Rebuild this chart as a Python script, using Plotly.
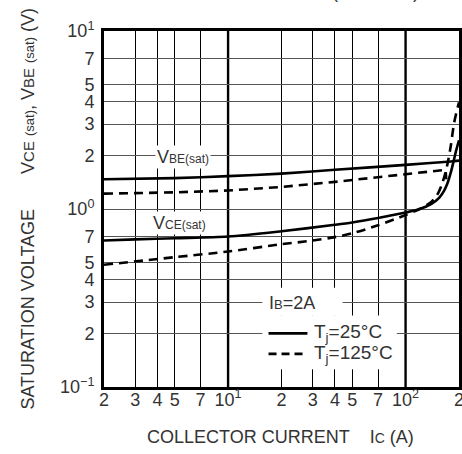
import plotly.graph_objects as go
import math

# ---------------- data ----------------
ic_vbe_25 = [2, 5, 10, 20, 40, 100, 180, 200]
vbe_25 = [1.47, 1.49, 1.53, 1.58, 1.66, 1.77, 1.85, 1.87]

ic_vbe_125 = [2, 5, 10, 20, 40, 100, 160, 168, 169.5]
vbe_125 = [1.22, 1.24, 1.27, 1.33, 1.42, 1.56, 1.65, 1.66, 1.47]

ic_vce_25 = [2, 3, 5, 10, 20, 40, 50, 70, 100, 120, 140, 155, 165, 172, 180, 187, 193, 200]
vce_25 = [0.665, 0.675, 0.685, 0.70, 0.75, 0.815, 0.84, 0.89, 0.955, 1.0, 1.07, 1.16, 1.27, 1.39, 1.61, 1.88, 2.14, 2.43]

ic_vce_125 = [2, 5, 10, 20, 30, 40, 50, 70, 100, 120, 140, 150, 160, 168, 174, 180, 188, 200]
vce_125 = [0.486, 0.536, 0.577, 0.634, 0.665, 0.695, 0.73, 0.81, 0.925, 1.0, 1.10, 1.19, 1.37, 1.61, 1.88, 2.28, 3.07, 3.98]

x_tickvals = [2, 3, 4, 5, 7, 10, 20, 30, 40, 50, 70, 100, 200]
x_ticktext = ["2", "3", "4", "5", "7", "10<sup>1</sup>", "2", "3", "4", "5", "7", "10<sup>2</sup>", "2"]
y_tickvals = [0.1, 0.2, 0.3, 0.4, 0.5, 0.7, 1, 2, 3, 4, 5, 7, 10]
y_ticktext = ["10<sup>\u22121</sup>", "2", "3", "4", "5", "7", "10<sup>0</sup>",
              "2", "3", "4", "5", "7", "10<sup>1</sup>"]
x_decades = [10, 100]

FONT = "Liberation Sans, Arial, sans-serif"
TXT = "#333333"
FS = 18
GAP = "&nbsp;" * 4
YGAP = "&nbsp;" * 7

def sm(s, size=12):
    return "<span style='font-size:%dpx'>%s</span>" % (size, s)

fig = go.Figure()

solid = dict(color="black", width=2.6)
dashed = dict(color="black", width=2.6, dash="9px,6px")

fig.add_trace(go.Scatter(x=ic_vbe_25, y=vbe_25, mode="lines",
                         line=dict(**solid, shape="spline", smoothing=0.6), showlegend=False))
fig.add_trace(go.Scatter(x=ic_vbe_125, y=vbe_125, mode="lines",
                         line=dict(**dashed), showlegend=False))
fig.add_trace(go.Scatter(x=ic_vce_25, y=vce_25, mode="lines",
                         line=dict(**solid, shape="spline", smoothing=0.8), showlegend=False))
fig.add_trace(go.Scatter(x=ic_vce_125, y=vce_125, mode="lines",
                         line=dict(**dashed, shape="spline", smoothing=0.8), showlegend=False))

shapes = []
# heavier decade grid lines
for xv in x_decades:
    shapes.append(dict(type="line", xref="x", yref="paper", x0=xv, x1=xv, y0=0, y1=1,
                       line=dict(color="black", width=2.4), layer="between"))
# white boxes behind the legend text
shapes.append(dict(type="rect", xref="x", yref="y", x0=15.6, x1=44.2, y0=0.251, y1=0.361,
                   fillcolor="white", line=dict(width=0), layer="between"))
shapes.append(dict(type="rect", xref="x", yref="y", x0=15.6, x1=89.3, y0=0.126, y1=0.252,
                   fillcolor="white", line=dict(width=0), layer="between"))
# legend line samples
shapes.append(dict(type="line", xref="x", yref="y", x0=16.9, x1=28.0, y0=0.2, y1=0.2,
                   line=dict(color="black", width=2.6), layer="above"))
shapes.append(dict(type="line", xref="x", yref="y", x0=16.9, x1=28.0, y0=0.1535, y1=0.1535,
                   line=dict(color="black", width=2.6, dash="8px,5px"), layer="above"))

annotations = [
    dict(x=math.log10(5.6), y=math.log10(1.97), xref="x", yref="y",
         text="V" + sm("BE(sat)"), showarrow=False, bgcolor="white", borderpad=1,
         font=dict(family=FONT, size=FS, color=TXT)),
    dict(x=math.log10(5.3), y=math.log10(0.83), xref="x", yref="y",
         text="V" + sm("CE(sat)"), showarrow=False, bgcolor="white", borderpad=1,
         font=dict(family=FONT, size=FS, color=TXT)),
    dict(x=math.log10(16.6), y=math.log10(0.296), xref="x", yref="y", xanchor="left",
         text="I" + sm("B", 13) + "=2A", showarrow=False,
         font=dict(family=FONT, size=FS, color=TXT)),
    dict(x=math.log10(29.8), y=math.log10(0.2), xref="x", yref="y", xanchor="left",
         text="T<sub>j</sub>=25\u00b0C", showarrow=False,
         font=dict(family=FONT, size=19, color=TXT)),
    dict(x=math.log10(29.8), y=math.log10(0.1535), xref="x", yref="y", xanchor="left",
         text="T<sub>j</sub>=125\u00b0C", showarrow=False,
         font=dict(family=FONT, size=19, color=TXT)),
    # axis titles
    dict(x=0.496, y=-0.14, xref="paper", yref="paper", yanchor="middle",
         text="COLLECTOR CURRENT" + GAP + "I" + sm("C", 14) + " (A)",
         showarrow=False, font=dict(family=FONT, size=FS, color=TXT)),
    dict(x=-0.248, y=0.501, xref="paper", yref="paper", textangle=-90,
         text="SATURATION VOLTAGE" + YGAP + "V" + sm("CE", 15) + " " + sm("(sat)", 13)
              + ", V" + sm("BE", 15) + " " + sm("(sat)", 13) + " (V)",
         showarrow=False, font=dict(family=FONT, size=FS, color=TXT)),
    # chart title, almost entirely above the visible page
    dict(x=0.894, y=1.075, xref="paper", yref="paper", xanchor="right", yanchor="bottom",
         text="CHARACTERISTICS (TYPICAL)",
         showarrow=False, font=dict(family=FONT, size=FS, color=TXT)),
]

fig.update_layout(
    width=462, height=454, autosize=False,
    margin=dict(l=104, r=3, t=31, b=67, autoexpand=False),
    paper_bgcolor="white", plot_bgcolor="white",
    shapes=shapes, annotations=annotations,
    font=dict(family=FONT, size=FS, color=TXT),
)
fig.update_xaxes(type="log", range=[math.log10(2), math.log10(200)], automargin=False,
                 tickmode="array", tickvals=x_tickvals, ticktext=x_ticktext,
                 showgrid=True, gridcolor="black", gridwidth=1.3,
                 showline=True, mirror=True, linecolor="black", linewidth=3,
                 ticks="", ticklabelstandoff=-6, ticklabeloverflow="allow", zeroline=False,
                 tickfont=dict(family=FONT, size=FS, color=TXT))
fig.update_yaxes(type="log", range=[-1, 1], automargin=False,
                 tickmode="array", tickvals=y_tickvals, ticktext=y_ticktext,
                 showgrid=True, gridcolor="#555555", gridwidth=1.3,
                 showline=True, mirror=True, linecolor="black", linewidth=3,
                 ticks="", ticklabelstandoff=3, ticklabeloverflow="allow", zeroline=False,
                 tickfont=dict(family=FONT, size=FS, color=TXT))

fig.write_html("out.html", config={"displayModeBar": False},
               post_script="document.body.style.margin='0';document.body.style.overflow='hidden';")
